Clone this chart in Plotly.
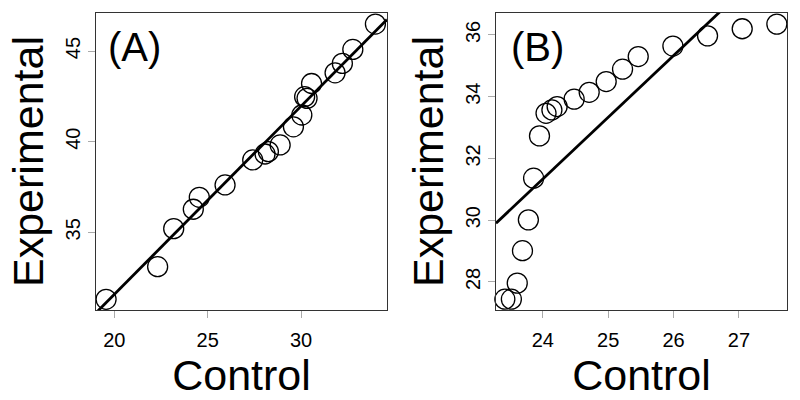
import plotly.graph_objects as go
from plotly.subplots import make_subplots

# Panel A data
a_control = [19.56, 22.32, 23.18, 24.23, 24.55, 25.93, 27.41, 28.07, 28.25, 28.88,
             29.59, 30.04, 30.19, 30.32, 30.56, 31.82, 32.21, 32.77, 33.98]
a_experimental = [31.30, 33.10, 35.20, 36.27, 36.93, 37.61, 38.99, 39.32, 39.45, 39.82,
                  40.82, 41.47, 42.48, 42.39, 43.21, 43.80, 44.32, 45.09, 46.49]
a_fit = {"intercept": 10.80, "slope": 1.0386}

# Panel B data
b_control = [23.42, 23.52, 23.61, 23.69, 23.78, 23.86, 23.95, 24.05, 24.14, 24.22,
             24.48, 24.71, 24.97, 25.22, 25.46, 25.99, 26.52, 27.05, 27.58]
b_experimental = [27.44, 27.44, 27.96, 29.01, 30.01, 31.36, 32.73, 33.46, 33.57, 33.68,
                  33.92, 34.14, 34.49, 34.89, 35.30, 35.64, 35.97, 36.20, 36.35]
b_fit = {"intercept": -16.67, "slope": 2.0}

a_xticks = [20, 25, 30]
a_yticks = [35, 40, 45]
b_xticks = [24, 25, 26, 27]
b_yticks = [28, 30, 32, 34, 36]

a_xrange = [19.02, 34.6]
a_yrange = [30.71, 47.1]
b_xrange = [23.285, 27.735]
b_yrange = [27.09, 36.71]

FONT = "Liberation Sans, Arial, sans-serif"

fig = make_subplots(rows=1, cols=2)

marker = dict(symbol="circle-open", size=20, color="black", line=dict(width=1.3, color="black"))

fig.add_trace(go.Scatter(x=a_control, y=a_experimental, mode="markers", marker=marker,
                         showlegend=False, cliponaxis=False), row=1, col=1)
fig.add_trace(go.Scatter(x=a_xrange, y=[a_fit["intercept"] + a_fit["slope"] * v for v in a_xrange],
                         mode="lines", line=dict(color="black", width=2.8), showlegend=False),
              row=1, col=1)
fig.add_trace(go.Scatter(x=b_control, y=b_experimental, mode="markers", marker=marker,
                         showlegend=False, cliponaxis=False), row=1, col=2)
fig.add_trace(go.Scatter(x=b_xrange, y=[b_fit["intercept"] + b_fit["slope"] * v for v in b_xrange],
                         mode="lines", line=dict(color="black", width=2.8), showlegend=False),
              row=1, col=2)

common_axis = dict(showline=True, mirror=True, linecolor="#333", linewidth=1.2,
                   showgrid=False, zeroline=False, ticks="outside", ticklen=7,
                   tickcolor="#aaa", tickwidth=1, automargin=False,
                   tickfont=dict(family=FONT, size=20, color="black"))

fig.update_xaxes(**common_axis)
fig.update_yaxes(**common_axis)
fig.update_xaxes(ticklabelstandoff=5)

title_font = dict(family=FONT, size=43, color="black")
fig.update_xaxes(range=a_xrange, tickvals=a_xticks, domain=[0.12, 0.48375],
                 title=dict(text="Control", font=title_font, standoff=0),
                 row=1, col=1)
fig.update_yaxes(range=a_yrange, tickvals=a_yticks, tickangle=-90,
                 title=dict(text="Experimental", font=title_font, standoff=4),
                 row=1, col=1)
fig.update_xaxes(range=b_xrange, tickvals=b_xticks, domain=[0.62, 0.98375],
                 title=dict(text="Control", font=title_font, standoff=0),
                 row=1, col=2)
fig.update_yaxes(range=b_yrange, tickvals=b_yticks, tickangle=-90,
                 title=dict(text="Experimental", font=title_font, standoff=4),
                 row=1, col=2)
fig.update_yaxes(domain=[0.225, 0.9675])

fig.add_annotation(text="(A)", xref="x domain", yref="y domain", x=0.035, y=0.885,
                   xanchor="left", yanchor="middle", showarrow=False,
                   font=dict(family=FONT, size=40, color="black"))
fig.add_annotation(text="(B)", xref="x2 domain", yref="y2 domain", x=0.045, y=0.885,
                   xanchor="left", yanchor="middle", showarrow=False,
                   font=dict(family=FONT, size=40, color="black"))

fig.update_layout(width=800, height=400, margin=dict(l=0, r=0, t=0, b=0),
                  plot_bgcolor="white", paper_bgcolor="white",
                  font=dict(family=FONT, color="black"))

fig.write_html("out.html", config={"displayModeBar": False},
               post_script="document.body.style.margin='0';document.body.style.overflow='hidden';")
